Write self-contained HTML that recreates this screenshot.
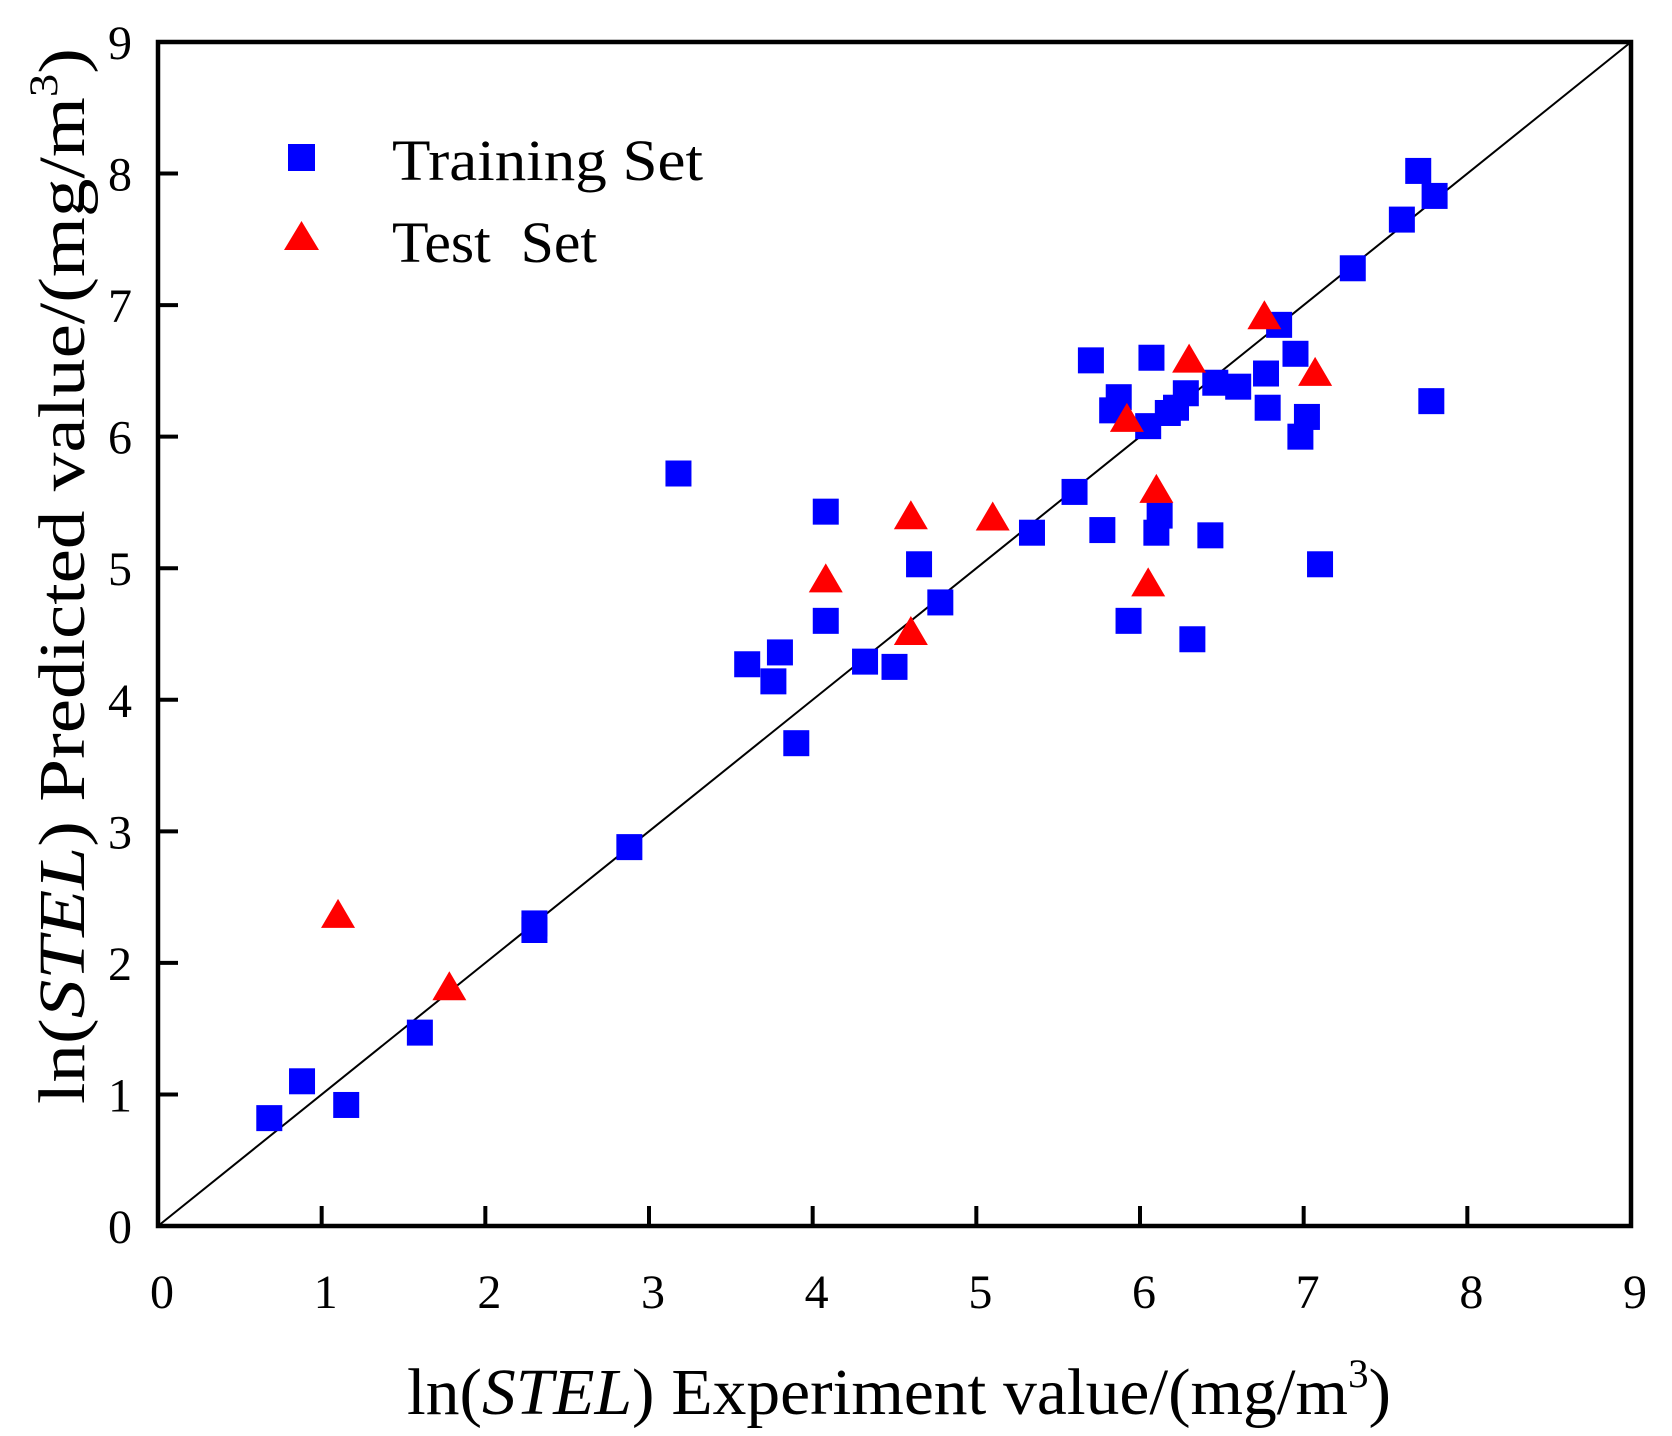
<!DOCTYPE html>
<html><head><meta charset="utf-8"><style>
html,body{margin:0;padding:0;background:#fff;}
svg{display:block;font-family:"Liberation Serif","DejaVu Serif",serif;}
</style></head><body>
<svg id="chart" width="1672" height="1436" viewBox="0 0 1672 1436" xmlns="http://www.w3.org/2000/svg">
<rect width="1672" height="1436" fill="#fff"/>
<g id="ticks"></g>
<g id="marks"></g>
<rect x="158" y="42" width="1473" height="1184" fill="none" stroke="#000" stroke-width="4.5"/>
<g>
<rect x="288" y="144" width="27" height="27" fill="#0000ff"/>
<text x="392" y="180" font-size="58" textLength="311" lengthAdjust="spacingAndGlyphs">Training Set</text>
<polygon points="284,250 319,250 301.5,221" fill="#ff0000"/>
<text x="392" y="262" font-size="58" textLength="205" lengthAdjust="spacingAndGlyphs" xml:space="preserve">Test  Set</text>
</g>
<text x="899" y="1414" font-size="66" text-anchor="middle" textLength="984" lengthAdjust="spacingAndGlyphs">ln(<tspan font-style="italic">STEL</tspan>) Experiment value/(mg/m<tspan font-size="40" dy="-27">3</tspan><tspan dy="27">)</tspan></text>
<text transform="translate(84,576) rotate(-90)" font-size="66" text-anchor="middle" textLength="1056" lengthAdjust="spacingAndGlyphs">ln(<tspan font-style="italic">STEL</tspan>) Predicted value/(mg/m<tspan font-size="40" dy="-27">3</tspan><tspan dy="27">)</tspan></text>
</svg>
<script>
const xTicks = [0,1,2,3,4,5,6,7,8,9];
const yTicks = [0,1,2,3,4,5,6,7,8,9];
const trainX = [0.68,0.88,1.15,1.6,2.3,2.3,2.88,3.18,3.6,3.76,3.8,3.9,4.08,4.08,4.32,4.5,4.65,4.78,5.34,5.6,5.7,5.77,5.83,5.87,5.93,6.05,6.07,6.1,6.12,6.17,6.22,6.28,6.32,6.43,6.46,6.6,6.77,6.78,6.85,6.95,6.98,7.02,7.1,7.3,7.6,7.7,7.78,7.8];
const trainY = [0.82,1.1,0.92,1.47,2.25,2.3,2.88,5.72,4.27,4.14,4.36,3.67,4.6,5.43,4.29,4.25,5.03,4.74,5.27,5.58,6.58,5.29,6.2,6.3,4.6,6.08,6.6,5.27,5.4,6.18,6.22,6.33,4.46,5.25,6.41,6.38,6.48,6.22,6.85,6.63,6.0,6.15,5.03,7.28,7.65,8.02,6.27,7.83];
const testX = [1.1,1.78,4.08,4.6,4.6,5.1,5.92,6.05,6.1,6.3,6.76,7.07];
const testY = [2.35,1.8,4.9,5.38,4.5,5.37,6.12,4.87,5.58,6.57,6.9,6.47];
const NS='http://www.w3.org/2000/svg';
const X0=158,X1=1631,Y0=1226,Y1=42,VMIN=0,VMAX=9;
function sx(v){return X0+(v-VMIN)/(VMAX-VMIN)*(X1-X0);}
function sy(v){return Y0-(v-VMIN)/(VMAX-VMIN)*(Y0-Y1);}
function mk(tag,attrs,parent){const e=document.createElementNS(NS,tag);for(const k in attrs)e.setAttribute(k,attrs[k]);parent.appendChild(e);return e;}
const tg=document.getElementById('ticks');
xTicks.forEach(t=>{
  const l=mk('line',{x1:sx(t),x2:sx(t),y1:Y0,y2:Y0-20,stroke:'#000','stroke-width':4},tg);
  
  
  const tx=mk('text',{x:sx(t)+4,y:1308,'font-size':48,'text-anchor':'middle'},tg);
  tx.textContent=t;
  
  
});
yTicks.forEach(t=>{
  const l=mk('line',{x1:X0,x2:X0+20,y1:sy(t),y2:sy(t),stroke:'#000','stroke-width':4},tg);
  
  
  const tx=mk('text',{x:132,y:sy(t)+17,'font-size':48,'text-anchor':'end'},tg);
  tx.textContent=t;
  
  
});
const mg=document.getElementById('marks');
const diag=mk('line',{x1:sx(0),y1:sy(0),x2:sx(9),y2:sy(9),stroke:'#000','stroke-width':2},mg);


trainX.forEach((v,i)=>{
  const r=mk('rect',{x:sx(v)-13,y:sy(trainY[i])-13,width:26,height:26,fill:'#0000ff'},mg);
  
  
});
testX.forEach((v,i)=>{
  const cx=sx(v),cy=sy(testY[i]);
  const p=mk('polygon',{points:`${cx-17},${cy+11} ${cx+17},${cy+11} ${cx},${cy-18}`,fill:'#ff0000'},mg);
  
  
});
</script>
</body></html>
